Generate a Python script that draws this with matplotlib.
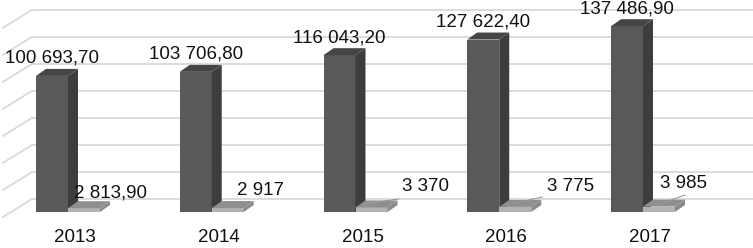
import matplotlib.pyplot as plt
from matplotlib.patches import Polygon
import numpy as np

plt.rcParams['font.family'] = ['Liberation Sans', 'DejaVu Sans']

years = ['2013', '2014', '2015', '2016', '2017']
big = [100693.70, 103706.80, 116043.20, 127622.40, 137486.90]
small = [2813.90, 2917, 3370, 3775, 3985]
big_labels = ['100 693,70', '103 706,80', '116 043,20', '127 622,40', '137 486,90']
small_labels = ['2 813,90', '2 917', '3 370', '3 775', '3 985']

# pixel geometry (figure is 753 x 248 px)
W, H = 753, 248
px_x = 143.75          # px per category
px_v = 740.0           # value per px
x0_px, base_px = 68, 212
w = 32 / px_x          # bar width in category units
ddx, ddy = 10 / px_x, 7 * px_v     # bar depth
wall_dy = 13 * px_v                # back wall offset

fig = plt.figure(figsize=(W / 100, H / 100), dpi=100)
ax = fig.add_axes([0, 0, 1, 1])
ax.set_xlim(-x0_px / px_x, (W - x0_px) / px_x)
ax.set_ylim(-(H - base_px) * px_v, base_px * px_v)
ax.axis('off')

# back wall gridlines + side wall diagonals
wall_left = (32 - x0_px) / px_x
side_dx = -29 / px_x
side_dy = -18 * px_v
for v in range(0, 140001, 20000):
    yv = v + wall_dy
    ax.plot([wall_left, 10], [yv, yv], color='#d9d9d9', lw=1.3, zorder=1)
    ax.plot([wall_left, wall_left + side_dx], [yv, yv + side_dy], color='#d9d9d9', lw=1.3, zorder=1)

x = np.arange(len(years))


def bar3d(xs, vals, front, side, top, z):
    ax.bar(xs, vals, width=w, align='edge', color=front, zorder=z, linewidth=0)
    for xi, v in zip(xs, vals):
        ax.add_patch(Polygon([(xi + w, 0), (xi + w + ddx, ddy), (xi + w + ddx, v + ddy), (xi + w, v)],
                             closed=True, color=side, lw=0, zorder=z))
        ax.add_patch(Polygon([(xi, v), (xi + w, v), (xi + w + ddx, v + ddy), (xi + ddx, v + ddy)],
                             closed=True, color=top, lw=0, zorder=z))


bar3d(x - w, big, '#595959', '#3d3d3d', '#454545', 3)
bar3d(x, small, '#b2b2b2', '#8a8a8a', '#8f8f8f', 4)

fs = 13.5
for i in range(len(years)):
    ax.text(x[i] - w / 2, big[i] + 13 * px_v, big_labels[i], ha='center', va='baseline',
            fontsize=fs, color='#111111', zorder=6)

small_dx = [26, 33, 54, 55, 25]
small_base = [197, 195, 191, 191, 188]
for i in range(len(years)):
    ax.text(x[i] + w / 2 + small_dx[i] / px_x, (base_px - small_base[i]) * px_v, small_labels[i],
            ha='center', va='baseline', fontsize=fs, color='#111111', zorder=6)
    ax.text(x[i] + 7 / px_x, -(238 - base_px) * px_v, years[i], ha='center', va='center',
            fontsize=fs, color='#111111', zorder=6)

# leader lines of the moved small labels (start at bar top, px offsets to label)
for i, (sx, ex, ey) in {2: (8, 43, 199), 3: (14, 43, 197), 4: (20, 42, 195)}.items():
    xa = x[i] + sx / px_x
    ax.plot([xa, x[i] + ex / px_x], [small[i] + ddy / 2, (base_px - ey) * px_v],
            color='#9a9a9a', lw=0.8, zorder=5)

fig.savefig('out.png', dpi=100, facecolor='white')
